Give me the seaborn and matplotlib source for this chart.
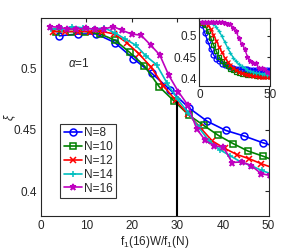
import numpy as np
import pandas as pd
import matplotlib
matplotlib.use('Agg')
import matplotlib.pyplot as plt
import seaborn as sns

# main panel: x = f1(16)W/f1(N)
x_n8 = [4.06, 8.12, 12.18, 16.24, 20.3, 24.36, 28.42, 32.48, 36.54, 40.6, 44.66, 48.72, 52.78]
y_n8 = [0.5265, 0.528, 0.528, 0.521, 0.508, 0.496, 0.4825, 0.468, 0.457, 0.4496, 0.445, 0.4396, 0.435]

x_n10 = [3.25, 6.5, 9.75, 13.0, 16.25, 19.5, 22.75, 26.0, 29.25, 32.5, 35.75, 39.0, 42.25, 45.5, 48.75, 52.0]
y_n10 = [0.530, 0.530, 0.530, 0.528, 0.523, 0.513, 0.502, 0.485, 0.4735, 0.462, 0.4537, 0.4455, 0.4388, 0.4328, 0.4287, 0.424]

x_n12 = [2.69, 5.38, 8.07, 10.76, 13.45, 16.14, 18.83, 21.52, 24.21, 26.9, 29.59, 32.28, 34.97, 37.66,
         40.35, 43.04, 45.73, 48.42, 51.11]
y_n12 = [0.530, 0.530, 0.530, 0.530, 0.530, 0.528, 0.521, 0.512, 0.501, 0.486, 0.474, 0.463, 0.452, 0.441,
         0.435, 0.430, 0.4266, 0.4225, 0.419]

x_n14 = [2.31, 4.62, 6.93, 9.24, 11.55, 13.86, 16.17, 18.48, 20.79, 23.1, 25.41, 27.72, 30.03, 32.34,
         34.65, 36.96, 39.27, 41.58, 43.89, 46.2, 48.51, 50.82]
y_n14 = [0.532, 0.532, 0.534, 0.533, 0.532, 0.533, 0.529, 0.524, 0.519, 0.510, 0.503, 0.488, 0.475, 0.464,
         0.452, 0.441, 0.434, 0.429, 0.424, 0.421, 0.417, 0.414]

x_n16 = [1.9, 3.9, 5.8, 7.7, 9.8, 11.8, 13.8, 15.9, 17.8, 19.9, 22.0, 24.1, 26.1, 28.1, 30.2, 32.3,
         34.2, 36.1, 38.1, 40.1, 42.0, 44.1, 46.2, 48.4, 50.3]
y_n16 = [0.534, 0.5335, 0.532, 0.532, 0.5325, 0.532, 0.532, 0.534, 0.531, 0.528, 0.527, 0.519, 0.511,
         0.4943, 0.481, 0.470, 0.451, 0.4415, 0.437, 0.436, 0.4235, 0.424, 0.421, 0.4144, 0.413]

# inset: unscaled W
w_ins = [2, 4, 6, 8, 10, 12, 14, 16, 18, 20, 22, 24, 26, 28, 30, 32, 34, 36, 38, 40, 42, 44, 46, 48, 50]
ins_n8 = [0.525, 0.506, 0.487, 0.470, 0.456, 0.446, 0.440, 0.435, 0.431, 0.428, 0.426, 0.424, 0.423,
          0.422, 0.421, 0.421, 0.421, 0.420, 0.420, 0.420, 0.420, 0.420, 0.420, 0.420, 0.420]
ins_n10 = [0.530, 0.525, 0.512, 0.496, 0.479, 0.464, 0.451, 0.442, 0.434, 0.428, 0.423, 0.419, 0.416,
           0.413, 0.411, 0.410, 0.409, 0.408, 0.407, 0.406, 0.406, 0.405, 0.405, 0.405, 0.405]
ins_n12 = [0.530, 0.530, 0.526, 0.516, 0.503, 0.489, 0.474, 0.461, 0.449, 0.439, 0.431, 0.425, 0.420,
           0.416, 0.413, 0.411, 0.409, 0.407, 0.406, 0.405, 0.404, 0.404, 0.403, 0.403, 0.403]
ins_n14 = [0.532, 0.532, 0.532, 0.532, 0.528, 0.521, 0.511, 0.499, 0.486, 0.472, 0.460, 0.449, 0.440,
           0.433, 0.428, 0.424, 0.420, 0.417, 0.415, 0.413, 0.412, 0.411, 0.410, 0.409, 0.409]
ins_n16 = y_n16

labels = ['N=8', 'N=10', 'N=12', 'N=14', 'N=16']
colors = ['#0000ff', '#008000', '#ff0000', '#00bfbf', '#bf00bf']
markers = ['o', 's', 'x', '+', '*']
main_x = [x_n8, x_n10, x_n12, x_n14, x_n16]
main_y = [y_n8, y_n10, y_n12, y_n14, y_n16]
ins_y = [ins_n8, ins_n10, ins_n12, ins_n14, ins_n16]

cross_x = 30
cross_top = 0.473

sns.set_style('white')
plt.rcParams['font.family'] = ['Liberation Sans', 'DejaVu Sans']
plt.rcParams['mathtext.fontset'] = 'custom'
plt.rcParams['mathtext.rm'] = 'Liberation Sans'
plt.rcParams['mathtext.it'] = 'Liberation Sans:italic'

fig = plt.figure(figsize=(2.99, 2.5), dpi=100)
ax = fig.add_axes([0.137, 0.136, 0.761, 0.792])

for xs, ys, lab, c, m in zip(main_x, main_y, labels, colors, markers):
    df = pd.DataFrame({'x': xs, 'y': ys})
    mfc = c if m == '*' else 'none'
    sns.lineplot(data=df, x='x', y='y', ax=ax, color=c, marker=m, markersize=5,
                 markerfacecolor=mfc, markeredgecolor=c, markeredgewidth=1.1,
                 linewidth=1.2, sort=False, label=lab)

ax.plot([cross_x, cross_x], [0.37, cross_top], color='black', lw=1.5)

ax.set_xlim(0, 50)
ax.set_ylim(0.38, 0.541)
ax.set_xticks([0, 10, 20, 30, 40, 50])
ax.set_yticks([0.4, 0.45, 0.5])
ax.set_yticklabels(['0.4', '0.45', '0.5'])
ax.tick_params(direction='in', top=True, right=True, length=3, labelsize=8.5, pad=3,
               colors='#262626')
for s in ax.spines.values():
    s.set_color('#262626')
    s.set_linewidth(0.8)
ax.set_xlabel('f$_1$(16)W/f$_1$(N)', fontsize=8.5, labelpad=1)
ax.set_ylabel('ξ', fontsize=8.5, fontstyle='italic')
ax.yaxis.set_label_coords(-0.115, 0.5)
ax.text(6, 0.504, r'$\alpha$=1', fontsize=8.5, va='center')

leg = ax.legend(loc='upper left', bbox_to_anchor=(0.085, 0.465), fontsize=8.5, frameon=True,
                fancybox=False, handlelength=1.5, handletextpad=0.2, labelspacing=0.15,
                borderpad=0.3, borderaxespad=0)
leg.get_frame().set_edgecolor('black')
leg.get_frame().set_linewidth(0.8)

# inset
axi = fig.add_axes([0.6666, 0.656, 0.2365, 0.271])
for ys, c, m in zip(ins_y, colors, markers):
    df = pd.DataFrame({'w': w_ins, 'y': ys})
    mfc = c if m == '*' else 'none'
    sns.lineplot(data=df, x='w', y='y', ax=axi, color=c, marker=m, markersize=3.5,
                 markerfacecolor=mfc, markeredgecolor=c, markeredgewidth=0.9,
                 linewidth=1.0, sort=False, legend=False)
axi.set_xlim(0, 50)
axi.set_ylim(0.382, 0.5417)
axi.set_xticks([0, 50])
axi.set_yticks([0.4, 0.45, 0.5])
axi.set_yticklabels(['0.4', '0.45', '0.5'])
axi.tick_params(direction='in', top=True, right=True, length=2, labelsize=8.5, pad=2,
                colors='#262626')
for s in axi.spines.values():
    s.set_color('#262626')
    s.set_linewidth(0.8)
axi.set_xlabel('')
axi.set_ylabel('')

fig.savefig('out.png', dpi=100)
